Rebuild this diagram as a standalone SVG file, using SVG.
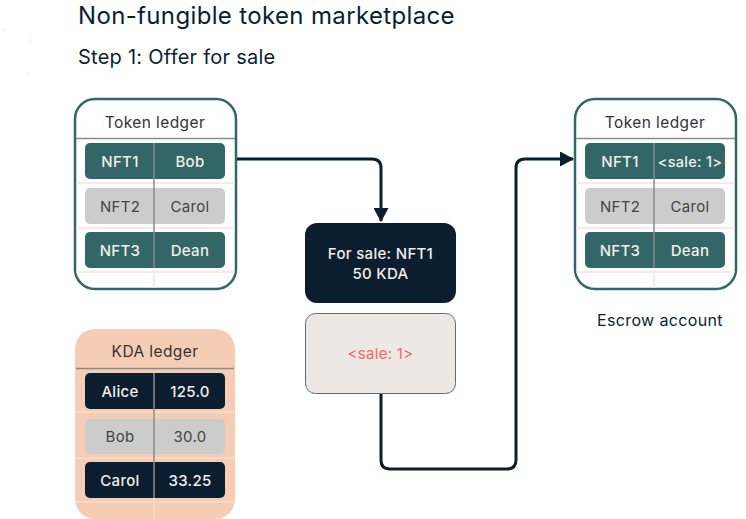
<svg xmlns="http://www.w3.org/2000/svg" width="746" height="519" viewBox="0 0 746 519">
<style>
text{font-family:Inter,"Noto Sans","DejaVu Sans",sans-serif;}
.ttl{font-size:24px;letter-spacing:0.35px;fill:#0b1e30;}
.sub{font-size:20px;letter-spacing:0.25px;fill:#0b1e30;}
.hdr{font-size:15.5px;letter-spacing:0.4px;fill:#333333;text-anchor:middle;}
.cell{font-size:15px;letter-spacing:0.3px;text-anchor:middle;}
.lt{fill:#f2eee9;font-weight:500;}
.dk{fill:#444444;}
.teal{fill:#336666;}
.navy{fill:#0b1e30;}
.gray{fill:#cccccc;}
.frame{fill:#ffffff;stroke:#336666;stroke-width:2.5;}
.sep{stroke:#8a8a8a;stroke-width:1.5;}
.faint{stroke:#f3e6dd;stroke-width:1.5;}
.div{stroke:#8a8a8a;stroke-width:1.5;}
.conn{fill:none;stroke:#0b1e30;stroke-width:3;stroke-linejoin:round;}
</style>
<defs>
<marker id="ah" markerWidth="14" markerHeight="15" refX="13" refY="7.5" orient="auto" markerUnits="userSpaceOnUse" viewBox="0 0 14 15">
<path d="M0,0 L14,7.5 L0,15 Z" fill="#0b1e30"/>
</marker>
</defs>
<rect width="746" height="519" fill="#ffffff"/>
<rect x="-3" y="30" width="33" height="45" rx="6" fill="none" stroke="#f5d9c6" stroke-width="1" stroke-dasharray="3 30" opacity="0.7"/>
<text class="ttl" x="78" y="24">Non-fungible token marketplace</text>
<text class="sub" x="78" y="64">Step 1: Offer for sale</text>

<g id="token-ledger-left">
<rect class="frame" x="75" y="99" width="161" height="190" rx="20"/>
<text class="hdr" x="155" y="128">Token ledger</text>
<line class="sep" x1="76" y1="138.5" x2="235" y2="138.5"/>
<line class="faint" x1="76" y1="183" x2="235" y2="183"/>
<line class="faint" x1="76" y1="228" x2="235" y2="228"/>
<line class="faint" x1="76" y1="272" x2="235" y2="272"/>
<line class="faint" x1="154" y1="268" x2="154" y2="288"/>
<rect class="teal" x="85" y="143" width="140" height="36" rx="5"/>
<rect class="gray" x="85" y="188" width="140" height="36" rx="5"/>
<rect class="teal" x="85" y="232" width="140" height="36" rx="5"/>
<line class="div" x1="154" y1="143" x2="154" y2="268"/>
<text class="cell lt" x="120" y="166.5">NFT1</text>
<text class="cell lt" x="190" y="166.5">Bob</text>
<text class="cell dk" x="120" y="211.5">NFT2</text>
<text class="cell dk" x="190" y="211.5">Carol</text>
<text class="cell lt" x="120" y="255.5">NFT3</text>
<text class="cell lt" x="190" y="255.5">Dean</text>
</g>

<g id="kda-ledger">
<rect x="75" y="329" width="160" height="190" rx="20" fill="#f5cdb5"/>
<text class="hdr" x="155" y="357">KDA ledger</text>
<line class="sep" x1="76" y1="368.5" x2="234" y2="368.5"/>
<line x1="76" y1="412" x2="234" y2="412" stroke="#f8ddcc" stroke-width="1.5"/>
<line x1="76" y1="458" x2="234" y2="458" stroke="#f8ddcc" stroke-width="1.5"/>
<line x1="76" y1="502" x2="234" y2="502" stroke="#f8ddcc" stroke-width="1.5"/>
<line x1="154" y1="498" x2="154" y2="519" stroke="#f8ddcc" stroke-width="1.5"/>
<rect class="navy" x="85" y="373" width="140" height="36" rx="5"/>
<rect class="gray" x="85" y="419" width="140" height="35" rx="5"/>
<rect class="navy" x="85" y="462" width="140" height="36" rx="5"/>
<line class="div" x1="154" y1="373" x2="154" y2="498"/>
<text class="cell lt" x="120" y="396.5">Alice</text>
<text class="cell lt" x="190" y="396.5">125.0</text>
<text class="cell dk" x="120" y="442">Bob</text>
<text class="cell dk" x="190" y="442">30.0</text>
<text class="cell lt" x="120" y="485.5">Carol</text>
<text class="cell lt" x="190" y="485.5">33.25</text>
</g>

<g id="token-ledger-right">
<rect class="frame" x="575" y="99" width="161" height="190" rx="20"/>
<text class="hdr" x="655" y="128">Token ledger</text>
<line class="sep" x1="576" y1="138.5" x2="735" y2="138.5"/>
<line class="faint" x1="576" y1="183" x2="735" y2="183"/>
<line class="faint" x1="576" y1="228" x2="735" y2="228"/>
<line class="faint" x1="576" y1="272" x2="735" y2="272"/>
<line class="faint" x1="654" y1="268" x2="654" y2="288"/>
<rect class="teal" x="585" y="143" width="140" height="36" rx="5"/>
<rect class="gray" x="585" y="188" width="140" height="36" rx="5"/>
<rect class="teal" x="585" y="232" width="140" height="36" rx="5"/>
<line class="div" x1="654" y1="143" x2="654" y2="268"/>
<text class="cell lt" x="620" y="166.5">NFT1</text>
<text class="cell lt" x="690" y="166.5" style="font-size:14.5px;letter-spacing:0.3px">&lt;sale: 1&gt;</text>
<text class="cell dk" x="620" y="211.5">NFT2</text>
<text class="cell dk" x="690" y="211.5">Carol</text>
<text class="cell lt" x="620" y="255.5">NFT3</text>
<text class="cell lt" x="690" y="255.5">Dean</text>
</g>
<g id="escrow-label">
<text x="660" y="326" style="font-size:16px;letter-spacing:0.35px;fill:#0b1e30;text-anchor:middle">Escrow account</text>
</g>

<g id="offer">
<rect x="305" y="223" width="151" height="80" rx="12" fill="#0b1e30"/>
<text class="cell lt" x="380.5" y="259">For sale: NFT1</text>
<text class="cell lt" x="380.5" y="279">50 KDA</text>
</g>
<g id="sale-account">
<rect x="305.5" y="313.5" width="150" height="80" rx="10" fill="#ede8e3" stroke="#5a6e78" stroke-width="1"/>
<text class="cell" x="380.5" y="358.5" style="fill:#f06a6a;font-size:15px">&lt;sale: 1&gt;</text>
</g>

<g id="connectors">
<path class="conn" d="M237,159 H372 Q381,159 381,168 V221" marker-end="url(#ah)"/>
<path class="conn" d="M381,394 V460 Q381,469 390,469 H507 Q516,469 516,460 V168 Q516,159 525,159 H573" marker-end="url(#ah)"/>
</g>
</svg>
